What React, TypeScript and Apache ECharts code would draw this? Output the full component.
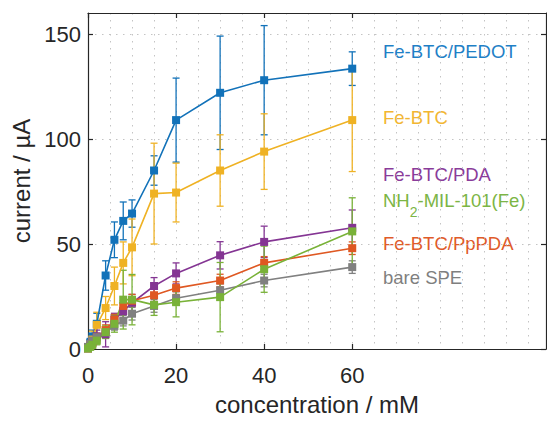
import React, { useEffect, useRef } from "react";
import * as echarts from "echarts";

const concentrations = [0, 0.5, 1, 2, 4, 6, 8, 10, 15, 20, 30, 40, 60];

const pedot = [0.5, 3, 6, 12, 35, 52, 61, 64.5, 85, 109, 122, 128, 133.5];
const pedotErr = [1, 2, 3, 5, 7, 8.5, 9, 6.5, 7, 20, 27, 26, 8];

const feBtc = [0.5, 2, 4.5, 11.5, 19.5, 30, 41, 48.4, 74, 74.5, 85, 94, 109];
const feBtcErr = [1, 2, 4, 6, 5.5, 9, 10, 13.5, 24, 14, 17, 18, 24.5];

const pda = [0.3, 1.5, 3, 6, 7, 14, 18, 22, 30, 36, 44.6, 51, 57.7];
const pdaErr = [0.5, 1, 2, 3, 6, 3, 3.5, 4, 4, 5, 6.5, 7.5, 8.5];

const mil = [0.2, 1, 2, 4, 8, 12, 23.5, 23.5, 21, 22.3, 24.7, 38, 56];
const milErr = [0.5, 1, 1.5, 2, 3, 4, 14, 12, 5, 7, 16.5, 11, 16];

const ppda = [0.3, 1.5, 3, 5.5, 9, 14, 20.5, 23, 25.6, 29, 32.6, 41, 48];
const ppdaErr = [0.5, 1, 1.5, 2, 2.5, 2.5, 2.5, 3, 3, 3, 3, 3, 3];

const bare = [1, 2.5, 4, 5.6, 8, 11, 13.5, 16.8, 20.5, 24.2, 28, 32.6, 39];
const bareErr = [0.5, 0.8, 1, 1, 1.5, 2, 2.5, 3, 3, 3, 3, 3, 3];

const seriesNames = ["Fe-BTC/PEDOT", "Fe-BTC", "Fe-BTC/PDA", "NH2-MIL-101(Fe)", "Fe-BTC/PpPDA", "bare SPE"];
const xTicks = [0, 20, 40, 60];
const yTicks = [0, 50, 100, 150];

const FONT = "Liberation Sans, Arial, Helvetica, sans-serif";
const AX = "#262626";

export default function App() {
  const ref = useRef<HTMLDivElement>(null);
  useEffect(() => {
    if (!ref.current) return;
    const chart = echarts.init(ref.current, null, { renderer: "svg" });

    const defs = [
      { name: seriesNames[0], vals: pedot, errs: pedotErr, color: "#1272b9", text: "#1f80c6", ly: 51 },
      { name: seriesNames[1], vals: feBtc, errs: feBtcErr, color: "#efb224", text: "#f2b632", ly: 117 },
      { name: seriesNames[2], vals: pda, errs: pdaErr, color: "#843593", text: "#8a3c9a", ly: 174 },
      { name: seriesNames[4], vals: ppda, errs: ppdaErr, color: "#df5822", text: "#e05b2a", ly: 243 },
      { name: seriesNames[5], vals: bare, errs: bareErr, color: "#808080", text: "#7f7f7f", ly: 277 },
      { name: seriesNames[3], vals: mil, errs: milErr, color: "#79b238", text: "#7cb545", ly: 209 },
    ];

    const series: any[] = [];
    defs.forEach((d) => {
      series.push({
        type: "custom",
        name: d.name + " err",
        xAxisIndex: 0,
        yAxisIndex: 0,
        silent: true,
        encode: { x: 0, y: 1 },
        data: concentrations.map((x, i) => [x, d.vals[i], d.errs[i]]),
        renderItem: (_p: any, api: any) => {
          const x = api.value(0);
          const y = api.value(1);
          const e = api.value(2);
          const t = api.coord([x, y + e]);
          const b = api.coord([x, Math.max(0, y - e)]);
          const w = 3.5;
          const style = { stroke: d.color, lineWidth: 1.3 };
          return {
            type: "group",
            children: [
              { type: "line", shape: { x1: t[0], y1: t[1], x2: b[0], y2: b[1] }, style },
              { type: "line", shape: { x1: t[0] - w, y1: t[1], x2: t[0] + w, y2: t[1] }, style },
              { type: "line", shape: { x1: b[0] - w, y1: b[1], x2: b[0] + w, y2: b[1] }, style },
            ],
          };
        },
      });
      series.push({
        type: "line",
        name: d.name,
        xAxisIndex: 0,
        yAxisIndex: 0,
        silent: true,
        data: concentrations.map((x, i) => [x, d.vals[i]]),
        symbol: "rect",
        symbolSize: 8,
        showAllSymbol: true,
        lineStyle: { color: d.color, width: 1.6 },
        itemStyle: { color: d.color },
      });
    });

    const lineStyle = { color: AX, width: 1.2 };
    const dotted = { color: "#c4c4c4", width: 1, type: [1.5, 5.5] as any };

    const graphics: any[] = defs.map((d) => {
      if (d.name === seriesNames[3]) {
        return {
          type: "text",
          left: 383,
          top: d.ly - 18,
          style: {
            text: "{n|NH}{s|2}{n|-MIL-101(Fe)}",
            rich: {
              n: { fontSize: 18.5, lineHeight: 36, fontFamily: FONT, fill: d.text, verticalAlign: "middle" },
              s: { fontSize: 14, lineHeight: 14, fontFamily: FONT, fill: d.text, verticalAlign: "bottom" },
            },
          },
        };
      }
      return {
        type: "text",
        x: 383,
        y: d.ly,
        style: {
          text: d.name,
          fontSize: 18.5,
          fontFamily: FONT,
          fill: d.text,
          verticalAlign: "middle",
          align: "left",
        },
      };
    });

    chart.setOption({
      animation: false,
      backgroundColor: "#ffffff",
      grid: { left: 88, top: 13, right: 1, bottom: 64, containLabel: false },
      xAxis: [
        {
          type: "value",
          min: 0,
          max: 104,
          interval: 20,
          position: "bottom",
          axisLine: { show: true, onZero: false, lineStyle },
          axisTick: { show: true, inside: true, length: 5, customValues: xTicks, lineStyle },
          axisLabel: { customValues: xTicks, fontSize: 22, color: AX, margin: 15, fontFamily: FONT },
          splitLine: { show: false },
          name: "concentration / mM",
          nameLocation: "middle",
          nameGap: 43,
          nameTextStyle: { fontSize: 24, color: AX, fontFamily: FONT },
        },
        {
          type: "value",
          min: 0,
          max: 104,
          interval: 20,
          position: "top",
          axisLine: { show: true, onZero: false, lineStyle },
          axisTick: { show: true, inside: true, length: 5, customValues: xTicks, lineStyle },
          axisLabel: { show: false },
          splitLine: { show: false },
        },
        {
          type: "value",
          min: 0,
          max: 104,
          interval: 5,
          position: "bottom",
          axisLine: { show: false },
          axisTick: { show: false },
          axisLabel: { show: false },
          splitLine: { show: true, lineStyle: dotted },
        },
      ],
      yAxis: [
        {
          type: "value",
          min: 0,
          max: 160,
          interval: 50,
          position: "left",
          axisLine: { show: true, onZero: false, lineStyle },
          axisTick: { show: true, inside: true, length: 5, customValues: yTicks, lineStyle },
          axisLabel: { customValues: yTicks, fontSize: 22, color: AX, margin: 7, fontFamily: FONT },
          splitLine: { show: true, lineStyle: dotted },
          name: "current / µA",
          nameLocation: "middle",
          nameGap: 49,
          nameTextStyle: { fontSize: 24, color: AX, fontFamily: FONT },
        },
        {
          type: "value",
          min: 0,
          max: 160,
          interval: 50,
          position: "right",
          axisLine: { show: true, onZero: false, lineStyle },
          axisTick: { show: true, inside: true, length: 5, customValues: yTicks, lineStyle },
          axisLabel: { show: false },
          splitLine: { show: false },
        },
      ],
      graphic: graphics,
      series,
    });

    return () => chart.dispose();
  }, []);

  return (
    <div
      ref={ref}
      style={{ position: "fixed", left: 0, top: 0, width: 547, height: 421, background: "#fff" }}
    />
  );
}
